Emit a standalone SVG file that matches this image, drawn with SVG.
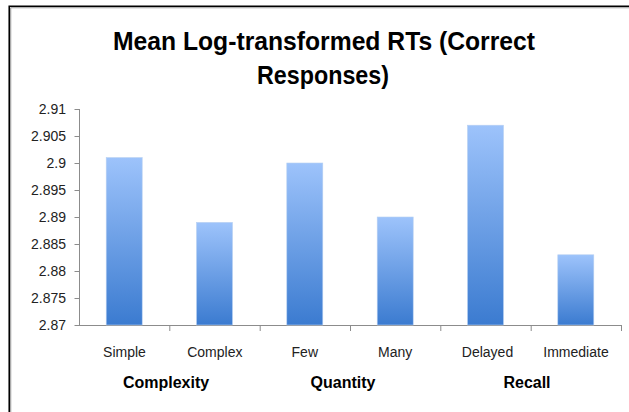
<svg xmlns="http://www.w3.org/2000/svg" width="629" height="412" viewBox="0 0 629 412">
  <defs>
    <linearGradient id="barFill" x1="0" y1="0" x2="0" y2="1">
      <stop offset="0" stop-color="#9dc3fb"/>
      <stop offset="1" stop-color="#3b7bd0"/>
    </linearGradient>
  </defs>
  <style>
    .title { font-family: "Liberation Sans", Arial, sans-serif; font-weight: bold; font-size: 25px; fill: #000; text-anchor: middle; }
    .tick { font-family: "Liberation Sans", Arial, sans-serif; font-size: 14px; fill: #222; text-anchor: end; }
    .cat { font-family: "Liberation Sans", Arial, sans-serif; font-size: 14px; fill: #222; text-anchor: middle; }
    .group { font-family: "Liberation Sans", Arial, sans-serif; font-weight: bold; font-size: 16px; fill: #000; text-anchor: middle; }
    .axis { stroke: #8c8c8c; stroke-width: 1; fill: none; }
    .bar { fill: url(#barFill); stroke: #b7d0f2; stroke-width: 0.6; }
  </style>

  <rect width="629" height="412" fill="#fff"/>

  <!-- frame: dark edge on top and left with a soft grey inner line -->
  <path d="M10.75,412 V7.75 H629" fill="none" stroke="#9a9a9a" stroke-width="1"/>
  <path d="M9.25,412 V6.25 H629" fill="none" stroke="#000" stroke-width="1.6"/>

  <!-- title -->
  <text class="title" x="324" y="50" textLength="422" lengthAdjust="spacingAndGlyphs">Mean Log-transformed RTs (Correct</text>
  <text class="title" x="323" y="84" textLength="132" lengthAdjust="spacingAndGlyphs">Responses)</text>

  <!-- axes -->
  <g id="axes">
    <path class="axis" d="M79.5,109 V326 M79,325.5 H621.5"/>
    <path class="axis" d="M74.5,109.5 H79.5 M74.5,136.5 H79.5 M74.5,163.5 H79.5 M74.5,190.5 H79.5 M74.5,217.5 H79.5 M74.5,244.5 H79.5 M74.5,271.5 H79.5 M74.5,298.5 H79.5 M74.5,325.5 H79.5"/>
    <path class="axis" d="M169.8,325 V331 M260.2,325 V331 M350.5,325 V331 M440.8,325 V331 M531.2,325 V331 M621.5,325 V331"/>
  </g>

  <!-- y tick labels -->
  <g id="y-labels">
    <text class="tick" x="66" y="114">2.91</text>
    <text class="tick" x="66" y="141">2.905</text>
    <text class="tick" x="66" y="168">2.9</text>
    <text class="tick" x="66" y="195">2.895</text>
    <text class="tick" x="66" y="222">2.89</text>
    <text class="tick" x="66" y="249">2.885</text>
    <text class="tick" x="66" y="276">2.88</text>
    <text class="tick" x="66" y="303">2.875</text>
    <text class="tick" x="66" y="330">2.87</text>
  </g>

  <!-- bars -->
  <g id="bar-simple"><rect class="bar" x="106.2" y="157.6" width="36" height="167.4"/></g>
  <g id="bar-complex"><rect class="bar" x="196.5" y="222.4" width="36" height="102.6"/></g>
  <g id="bar-few"><rect class="bar" x="286.8" y="163" width="36" height="162"/></g>
  <g id="bar-many"><rect class="bar" x="377.2" y="217" width="36" height="108"/></g>
  <g id="bar-delayed"><rect class="bar" x="467.5" y="125.2" width="36" height="199.8"/></g>
  <g id="bar-immediate"><rect class="bar" x="557.8" y="254.8" width="36" height="70.2"/></g>

  <!-- category labels -->
  <g id="x-labels">
    <text class="cat" x="124.5" y="357">Simple</text>
    <text class="cat" x="214.8" y="357">Complex</text>
    <text class="cat" x="304.8" y="357">Few</text>
    <text class="cat" x="395.2" y="357">Many</text>
    <text class="cat" x="487.5" y="357">Delayed</text>
    <text class="cat" x="576" y="357">Immediate</text>
  </g>

  <!-- factor labels -->
  <g id="group-labels">
    <text class="group" x="166" y="388">Complexity</text>
    <text class="group" x="343" y="388">Quantity</text>
    <text class="group" x="527" y="388">Recall</text>
  </g>
</svg>
